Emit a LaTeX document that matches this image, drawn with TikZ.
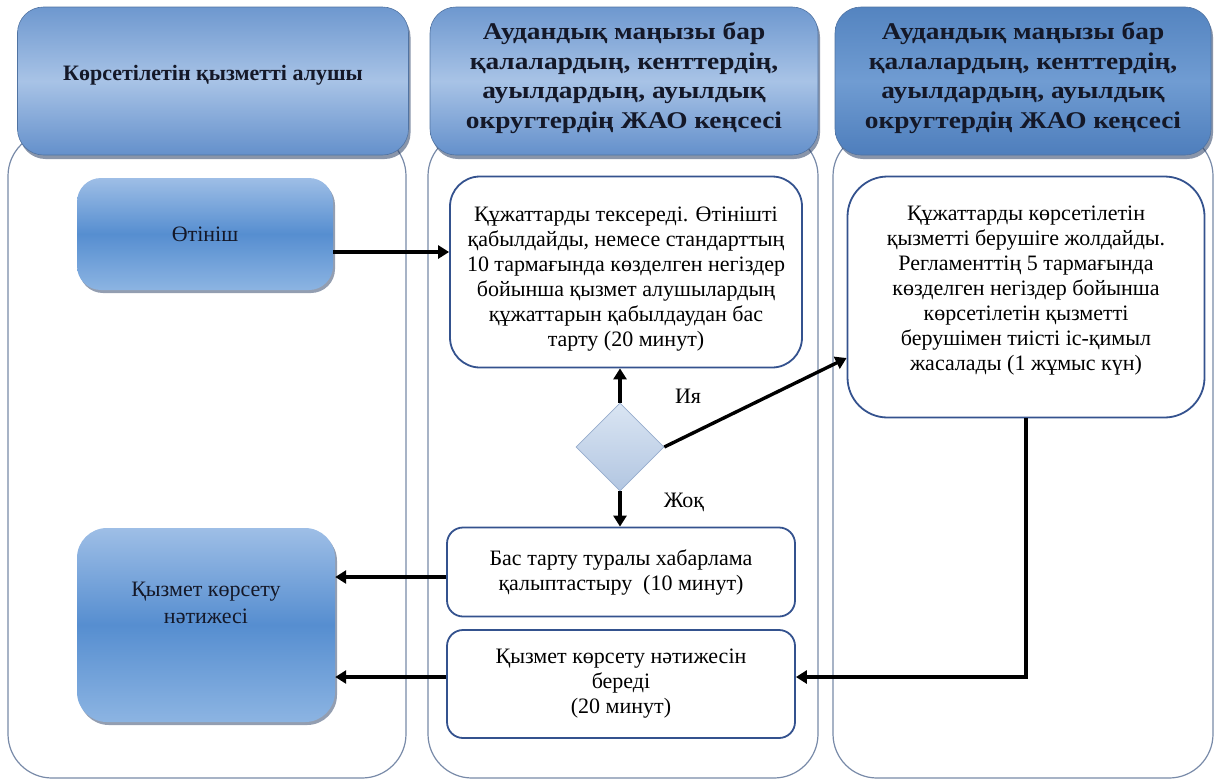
\documentclass[tikz,border=0pt]{standalone}
\usepackage{fontspec}
\setmainfont{Liberation Serif}
\newfontfamily\hwide[FakeStretch=1.14]{Liberation Serif}
\usetikzlibrary{shapes.geometric,arrows.meta,shadows}
\definecolor{laneC}{RGB}{120,138,168}
\definecolor{boxB}{RGB}{52,82,142}
\definecolor{hTop}{RGB}{110,152,207}
\definecolor{hMid}{RGB}{168,195,230}
\definecolor{hBot}{RGB}{100,144,203}
\definecolor{dTop}{RGB}{84,132,192}
\definecolor{dMid}{RGB}{112,156,210}
\definecolor{dBot}{RGB}{78,126,188}
\definecolor{bTop}{RGB}{158,190,230}
\definecolor{bMid}{RGB}{86,142,208}
\definecolor{bBot}{RGB}{140,180,226}
\definecolor{shad}{RGB}{40,62,100}
\definecolor{txt}{RGB}{20,24,40}
\definecolor{diaTop}{RGB}{218,229,243}
\definecolor{diaBot}{RGB}{178,198,225}
\definecolor{diaB}{RGB}{150,172,205}
\begin{document}
\begin{tikzpicture}[x=1pt,y=-1pt,
  lane/.style={draw=laneC, line width=1.2pt, rounded corners=44pt},
  head/.style={rectangle, rounded corners=26pt, draw=hBot!80!black, line width=0.6pt,
    top color=hTop, bottom color=hBot, middle color=hMid,
    font=\hwide\fontsize{24}{29.5}\selectfont\bfseries, align=center, text=txt,
    drop shadow={shadow xshift=2pt, shadow yshift=-4pt, opacity=0.55, fill=shad}},
  headdark/.style={head, top color=dTop, bottom color=dBot, middle color=dMid},
  bluebox/.style={rectangle, rounded corners=24pt, draw=none,
    top color=bTop, bottom color=bBot, middle color=bMid,
    font=\fontsize{22}{27}\selectfont, align=center, text=txt,
    drop shadow={shadow xshift=2pt, shadow yshift=-3pt, opacity=0.5, fill=shad}},
  stepbox/.style={rectangle, draw=boxB, line width=1.8pt, fill=white,
    font=\fontsize{22}{25}\selectfont, align=center, inner sep=3pt},
  decision/.style={diamond, draw=diaB, line width=0.6pt, top color=diaTop, bottom color=diaBot,
    minimum width=88pt, minimum height=88pt, inner sep=0pt},
  arr/.style={line width=3.4pt, -{Triangle[length=11pt,width=13pt]}},
  lbl/.style={font=\fontsize{22}{25}\selectfont}
]
\useasboundingbox (0,0) rectangle (1217,782);
% lanes
\draw[lane] (8,132) rectangle (406,778);
\draw[lane] (428,132) rectangle (818,778);
\draw[lane] (833,132) rectangle (1213,778);
% headers
\node[head, font=\fontsize{22}{30}\selectfont\bfseries, minimum width=391pt, minimum height=148pt] (h1) at (213,81) {Көрсетілетін қызметті алушы\rule[-17pt]{0pt}{1pt}};
\node[head, minimum width=388pt, minimum height=148pt] (h2) at (624,81) {Аудандық маңызы бар\\қалалардың, кенттердің,\\ауылдардың, ауылдық\\округтердің ЖАО кеңсесі\rule[-11pt]{0pt}{1pt}};
\node[headdark, minimum width=376pt, minimum height=148pt] (h3) at (1023,81) {Аудандық маңызы бар\\қалалардың, кенттердің,\\ауылдардың, ауылдық\\округтердің ЖАО кеңсесі\rule[-11pt]{0pt}{1pt}};
% lane 1
\node[bluebox, minimum width=256pt, minimum height=112pt] (app) at (205,234) {Өтініш};
\node[bluebox, rounded corners=30pt, minimum width=258pt, minimum height=194pt] (res) at (206,625) {Қызмет көрсету\\нәтижесі\\[18pt]~};
% lane 2
\node[stepbox, rounded corners=30pt, minimum width=352pt, minimum height=191pt] (b1) at (626,272) {\rule{0pt}{28pt}Құжаттарды тексереді. Өтінішті\\қабылдайды, немесе стандарттың\\10 тармағында көзделген негіздер\\бойынша қызмет алушылардың\\құжаттарын қабылдаудан бас\\тарту (20 минут)};
\node[decision] (dia) at (620,447) {};
\node[stepbox, rounded corners=16pt, minimum width=348pt, minimum height=89pt] (b2) at (621,572) {Бас тарту туралы хабарлама\\қалыптастыру~~(10 минут)};
\node[stepbox, rounded corners=16pt, minimum width=348pt, minimum height=108pt] (b3) at (621,684) {Қызмет көрсету нәтижесін\\береді\\(20 минут)};
% lane 3
\node[stepbox, rounded corners=40pt, minimum width=357pt, minimum height=241pt] (c1) at (1026,297) {Құжаттарды көрсетілетін\\қызметті берушіге жолдайды.\\Регламенттің 5 тармағында\\көзделген негіздер бойынша\\көрсетілетін қызметті\\берушімен тиісті іс-қимыл\\жасалады (1 жұмыс күн)\\[-8pt]~};
% labels
\node[lbl] (yes) at (688,396) {Ия};
\node[lbl] (no) at (684,502) {Жоқ};
% connectors
\draw[arr] ([yshift=-18pt]app.east) -- ([yshift=-18pt]app.east -| b1.west);
\draw[arr] (dia.north) -- (dia.north |- b1.south);
\draw[arr] (dia.south) -- (dia.south |- b2.north);
\draw[arr] (dia.east) -- ([yshift=-61pt]c1.west);
\draw[arr] ([yshift=-5pt]b2.west) -- ([yshift=-5pt]b2.west -| res.east);
\draw[arr] ([yshift=7pt]b3.west) -- ([yshift=7pt]b3.west -| res.east);
\draw[arr] (c1.south) |- ([yshift=7pt]b3.east);
\end{tikzpicture}
\end{document}
